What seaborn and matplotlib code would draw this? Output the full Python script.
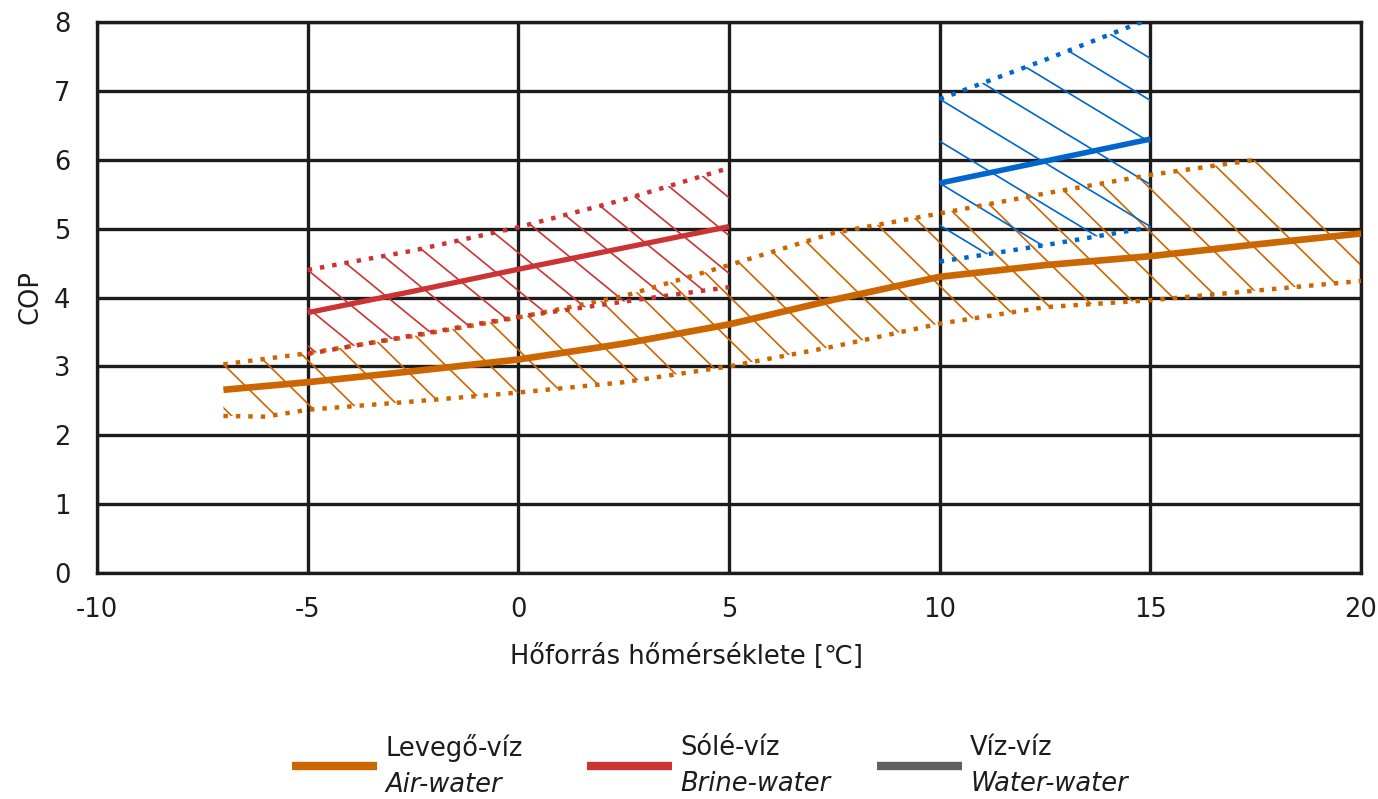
import numpy as np
import seaborn as sns
import matplotlib.pyplot as plt
from matplotlib.patches import Polygon
from matplotlib.collections import LineCollection
from matplotlib.lines import Line2D
from matplotlib.offsetbox import AnchoredOffsetbox, DrawingArea, TextArea, HPacker, VPacker

# Levegő-víz / Air-water
air_x_mid = [-7, -5, -2.5, 0, 2.5, 5, 7.5, 10, 12.5, 15, 17.5, 20]
air_mid = [2.66, 2.77, 2.93, 3.10, 3.33, 3.61, 3.97, 4.30, 4.47, 4.60, 4.77, 4.93]
air_x_up = [-7, -5, -2.5, 0, 2.5, 5, 7.5, 10, 12.5, 15, 17.5]
air_up = [3.03, 3.19, 3.44, 3.71, 4.02, 4.47, 4.94, 5.22, 5.51, 5.78, 6.00]
air_x_lo = [-7, -6, -5, -2.5, 0, 2.5, 5, 7.5, 10, 12.5, 15, 17.5, 20]
air_lo = [2.28, 2.27, 2.37, 2.49, 2.62, 2.77, 3.00, 3.29, 3.62, 3.86, 3.96, 4.10, 4.24]

# Sólé-víz / Brine-water
brine_x = [-5, -2.5, 0, 2.5, 5]
brine_up = [4.40, 4.68, 5.02, 5.42, 5.88]
brine_mid = [3.78, 4.09, 4.41, 4.72, 5.03]
brine_lo = [3.18, 3.45, 3.72, 3.94, 4.15]

# Víz-víz / Water-water
water_x = [10, 12.5, 15]
water_up = [6.88, 7.45, 8.05]
water_mid = [5.66, 5.98, 6.30]
water_lo = [4.52, 4.76, 5.02]

legend_top = ["Levegő-víz", "Sólé-víz", "Víz-víz"]
legend_bottom = ["Air-water", "Brine-water", "Water-water"]

ORANGE = "#CC6600"
RED = "#CC3333"
BLUE = "#0066CC"
GRAY = "#606060"
INK = "#1c1c1c"
FS = 18.5

sns.set_theme(style="white")
plt.rcParams["font.family"] = ["DejaVu Sans"]
plt.rcParams["axes.unicode_minus"] = False

fig = plt.figure(figsize=(13.78, 7.99), dpi=100)
ax = fig.add_axes([97 / 1378, 1 - 573 / 799, (1361 - 97) / 1378, (573 - 22) / 799])


def hatch_band(x_up, y_up, x_lo, y_lo, slope, step, color, x_max=None):
    px = list(x_up)
    py = list(y_up)
    if x_max is not None and x_max > x_up[-1]:
        # last hatch closes the band on the right
        px.append(x_max)
        py.append(y_up[-1] + slope * (x_max - x_up[-1]))
    px += list(x_lo[::-1])
    py += list(y_lo[::-1])
    px = np.array(px)
    py = np.array(py)
    clip = Polygon(np.column_stack([px, py]), closed=True, transform=ax.transData)

    c_all = py - slope * px
    c0 = y_up[0] - slope * x_up[0]
    dc = step * abs(slope)
    k = np.arange(np.floor((c_all.min() - c0) / dc) - 1, np.ceil((c_all.max() - c0) / dc) + 2)
    x0, x1 = px.min() - 1, px.max() + 1
    segs = [[(x0, c + slope * x0), (x1, c + slope * x1)] for c in c0 + k * dc]
    lc = LineCollection(segs, colors=color, linewidths=1.2, zorder=2)
    lc.set_clip_path(clip)
    ax.add_collection(lc)


def band_lines(x_up, y_up, x_mid, y_mid, x_lo, y_lo, color, lw_mid):
    for xs, ys in [(x_up, y_up), (x_lo, y_lo)]:
        sns.lineplot(x=xs, y=ys, ax=ax, color=color, lw=3.2,
                     linestyle=(0, (1, 1.8)), dash_capstyle="butt", zorder=3)
    sns.lineplot(x=x_mid, y=y_mid, ax=ax, color=color, lw=lw_mid,
                 solid_capstyle="butt", zorder=4)


hatch_band(air_x_up, air_up, air_x_lo, air_lo, -0.6, 1.05, ORANGE, x_max=20)
band_lines(air_x_up, air_up, air_x_mid, air_mid, air_x_lo, air_lo, ORANGE, 4.8)

hatch_band(brine_x, brine_up, brine_x, brine_lo, -0.5, 1.1, RED)
band_lines(brine_x, brine_up, brine_x, brine_mid, brine_x, brine_lo, RED, 3.8)

hatch_band(water_x, water_up, water_x, water_lo, -0.37, 1.65, BLUE)
band_lines(water_x, water_up, water_x, water_mid, water_x, water_lo, BLUE, 4.0)

ax.set_xlim(-10, 20)
ax.set_ylim(0, 8)
ax.set_xticks(range(-10, 21, 5))
ax.set_yticks(range(0, 9))
ax.set_axisbelow(True)
ax.grid(True, color=INK, lw=2.4)
for sp in ax.spines.values():
    sp.set_color(INK)
    sp.set_linewidth(2.4)
ax.tick_params(axis="x", length=4, width=2, color=INK, pad=13, labelsize=FS, labelcolor=INK)
ax.tick_params(axis="y", length=0, pad=19, labelsize=FS, labelcolor=INK)
ax.set_xlabel("Hőforrás hőmérséklete [℃]", fontsize=FS, color=INK)
ax.xaxis.set_label_coords((686 - 97) / 1264, -(657 - 573) / 551)
ax.xaxis.label.set_va("center")
ax.set_ylabel("COP", fontsize=FS, color=INK)
ax.yaxis.set_label_coords(-(97 - 30) / 1264, 0.5)
ax.yaxis.label.set_va("center")

# legend below the chart, two-line labels (second line italic)
legend_colors = [ORANGE, RED, GRAY]
legend_x = [292 / 1378, 587 / 1378, 877 / 1378]
for col, top, bottom, lx in zip(legend_colors, legend_top, legend_bottom, legend_x):
    da = DrawingArea(61, 10, 0, 0)
    da.add_artist(Line2D([0, 61], [5, 5], color=col, lw=6, solid_capstyle="butt"))
    texts = VPacker(children=[TextArea(top, textprops=dict(size=FS, color=INK)),
                              TextArea(bottom, textprops=dict(size=FS, color=INK, style="italic"))],
                    align="left", pad=0, sep=7)
    entry = HPacker(children=[da, texts], align="center", pad=0, sep=6)
    box = AnchoredOffsetbox(loc="center left", child=entry, pad=0, borderpad=0, frameon=False,
                            bbox_to_anchor=(lx, 1 - 766 / 799), bbox_transform=fig.transFigure)
    fig.add_artist(box)

fig.savefig("out.png", dpi=100)
